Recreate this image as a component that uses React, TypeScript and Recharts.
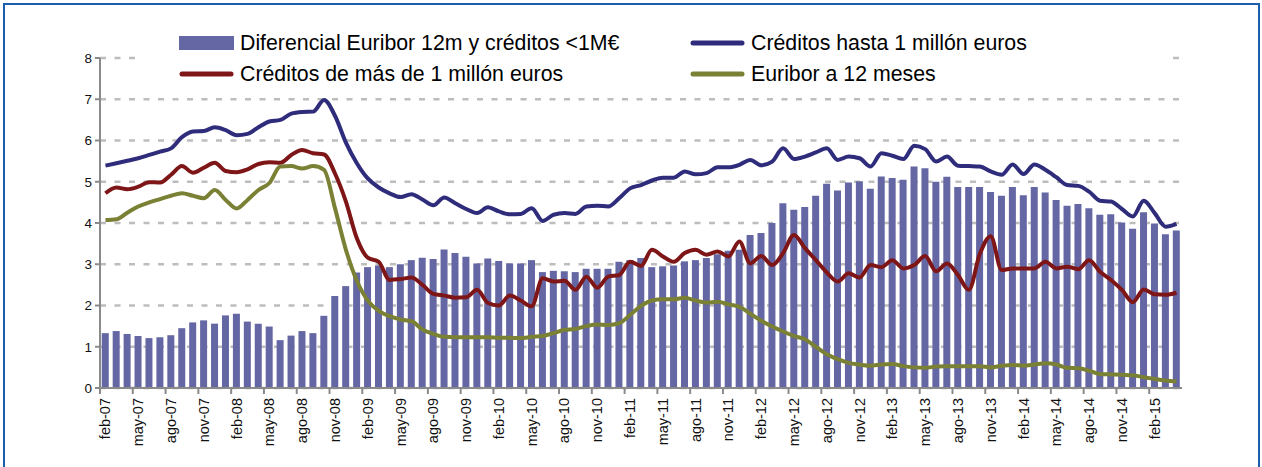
import React from 'react';
import { ComposedChart, Bar, Line, XAxis, YAxis, CartesianGrid, Legend } from 'recharts';

const monthNames = ['ene', 'feb', 'mar', 'abr', 'may', 'jun', 'jul', 'ago', 'sep', 'oct', 'nov', 'dic'];
const firstMonthIndex = 1; // feb
const firstYear = 7; // 2007
const monthCount = 99;
const months: string[] = [];
for (let k = 0; k < monthCount; k++) {
  const m = (firstMonthIndex + k) % 12;
  const y = firstYear + Math.floor((firstMonthIndex + k) / 12);
  months.push(`${monthNames[m]}-${String(y).padStart(2, '0')}`);
}

const diferencial = [
  1.33, 1.38, 1.31, 1.26, 1.21, 1.23, 1.28, 1.45, 1.59, 1.64, 1.56, 1.76, 1.80, 1.61, 1.56, 1.49, 1.16, 1.27, 1.38, 1.33,
  1.75, 2.23, 2.47, 2.80, 2.93, 2.97, 2.93, 3.00, 3.10, 3.16, 3.13, 3.36, 3.27, 3.18, 3.02, 3.14, 3.08, 3.02, 3.02, 3.10,
  2.81, 2.84, 2.83, 2.81, 2.89, 2.89, 2.89, 3.06, 3.10, 3.15, 2.93, 2.95, 2.97, 3.07, 3.10, 3.15, 3.24, 3.33, 3.35, 3.71,
  3.76, 4.00, 4.48, 4.32, 4.39, 4.66, 4.95, 4.79, 4.98, 5.01, 4.83, 5.13, 5.09, 5.05, 5.37, 5.33, 5.00, 5.12, 4.87, 4.87,
  4.87, 4.75, 4.66, 4.87, 4.67, 4.87, 4.74, 4.56, 4.42, 4.46, 4.36, 4.20, 4.21, 4.01, 3.86, 4.26, 3.99, 3.73, 3.82,
];

const hasta1M = [
  5.39, 5.45, 5.51, 5.57, 5.65, 5.73, 5.81, 6.08, 6.22, 6.23, 6.32, 6.25, 6.13, 6.16, 6.32, 6.46, 6.50, 6.65, 6.69, 6.70,
  6.98, 6.60, 5.95, 5.45, 5.08, 4.86, 4.72, 4.63, 4.70, 4.57, 4.43, 4.62, 4.48, 4.34, 4.24, 4.38, 4.28, 4.21, 4.22, 4.36,
  4.05, 4.20, 4.24, 4.22, 4.40, 4.42, 4.40, 4.60, 4.84, 4.92, 5.03, 5.10, 5.10, 5.25, 5.18, 5.21, 5.35, 5.35, 5.41, 5.53,
  5.40, 5.49, 5.81, 5.55, 5.61, 5.71, 5.81, 5.53, 5.61, 5.57, 5.37, 5.69, 5.63, 5.55, 5.87, 5.79, 5.49, 5.61, 5.39, 5.38,
  5.37, 5.25, 5.17, 5.42, 5.19, 5.42, 5.29, 5.11, 4.92, 4.90, 4.76, 4.54, 4.52, 4.34, 4.16, 4.54, 4.24, 3.91, 3.98,
];

const masDe1M = [
  4.72, 4.86, 4.82, 4.88, 4.99, 4.98, 5.17, 5.38, 5.22, 5.34, 5.46, 5.26, 5.23, 5.30, 5.43, 5.47, 5.46, 5.65, 5.77, 5.69,
  5.66, 5.20, 4.52, 3.63, 3.16, 3.06, 2.62, 2.64, 2.68, 2.50, 2.28, 2.24, 2.19, 2.20, 2.38, 2.06, 2.00, 2.24, 2.12, 1.98,
  2.66, 2.58, 2.60, 2.38, 2.70, 2.43, 2.70, 2.74, 3.06, 2.96, 3.35, 3.19, 3.06, 3.27, 3.35, 3.23, 3.31, 3.19, 3.55, 3.02,
  3.20, 2.98, 3.27, 3.71, 3.39, 3.10, 2.80, 2.58, 2.78, 2.68, 2.98, 2.93, 3.10, 2.90, 2.98, 3.20, 2.83, 3.02, 2.74, 2.38,
  3.25, 3.68, 2.86, 2.90, 2.90, 2.90, 3.06, 2.90, 2.94, 2.88, 3.10, 2.82, 2.62, 2.38, 2.08, 2.39, 2.27, 2.26, 2.31,
];

const euribor12m = [
  4.07, 4.09, 4.25, 4.40, 4.50, 4.58, 4.66, 4.72, 4.66, 4.60, 4.80, 4.56, 4.35, 4.56, 4.80, 4.97, 5.37, 5.38, 5.32, 5.38,
  5.29, 4.36, 3.35, 2.60, 2.12, 1.87, 1.74, 1.66, 1.62, 1.42, 1.31, 1.24, 1.23, 1.23, 1.23, 1.23, 1.22, 1.22, 1.21, 1.24,
  1.26, 1.33, 1.41, 1.43, 1.50, 1.54, 1.53, 1.57, 1.77, 1.99, 2.12, 2.15, 2.15, 2.19, 2.12, 2.07, 2.09, 2.03, 1.97, 1.80,
  1.63, 1.49, 1.37, 1.26, 1.18, 1.00, 0.82, 0.70, 0.61, 0.57, 0.54, 0.57, 0.58, 0.53, 0.50, 0.49, 0.52, 0.53, 0.53, 0.53,
  0.53, 0.50, 0.54, 0.56, 0.54, 0.57, 0.60, 0.57, 0.49, 0.48, 0.42, 0.34, 0.33, 0.32, 0.31, 0.26, 0.22, 0.18, 0.16,
];

const yTicks = [0, 1, 2, 3, 4, 5, 6, 7, 8];

const labels = {
  dif: 'Diferencial Euribor 12m y créditos <1M€',
  hasta: 'Créditos hasta 1 millón euros',
  mas: 'Créditos de más de 1 millón euros',
  eur: 'Euribor a 12 meses',
};

const COLORS = {
  bar: '#6467A4',
  blue: '#2F2C7C',
  red: '#7E1517',
  olive: '#7A8034',
  grid: '#BDBDBD',
  axis: '#8A8A8A',
  frame: '#1C5EAB',
};

const FONT = '"Liberation Sans", Arial, Helvetica, sans-serif';

const data = months.map((m, i) => ({
  m,
  dif: diferencial[i],
  hasta: hasta1M[i],
  mas: masDe1M[i],
  eur: euribor12m[i],
}));

const XTick = (props: any) => {
  const { x, y, payload } = props;
  const half = payload && typeof payload.offset === 'number' && payload.offset > 0 ? payload.offset : 5.47;
  const tx = x + 5;
  const ty = y + 10;
  return (
    <g>
      <line x1={x - half} y1={y} x2={x - half} y2={y + 6} stroke={COLORS.axis} strokeWidth={2} />
      <text
        x={tx}
        y={ty}
        transform={`rotate(-90, ${tx}, ${ty})`}
        textAnchor="end"
        fontSize={14.5}
        fill="#111"
        fontFamily={FONT}
      >
        {payload.value}
      </text>
    </g>
  );
};

const Swatch = ({ kind, color }: { kind: 'bar' | 'line'; color: string }) => (
  <svg width={55} height={16} style={{ display: 'block', flex: 'none' }}>
    {kind === 'bar' ? (
      <rect x={0} y={1} width={55} height={14} fill={color} />
    ) : (
      <line x1={3} y1={8} x2={52} y2={8} stroke={color} strokeWidth={5} strokeLinecap="round" />
    )}
  </svg>
);

const legendLayout = [
  { key: 'dif', kind: 'bar' as const, color: COLORS.bar, left: 42, top: 3 },
  { key: 'hasta', kind: 'line' as const, color: COLORS.blue, left: 553, top: 3 },
  { key: 'mas', kind: 'line' as const, color: COLORS.red, left: 42, top: 34 },
  { key: 'eur', kind: 'line' as const, color: COLORS.olive, left: 553, top: 34 },
];

const LegendContent = () => (
  <div
    style={{
      position: 'relative',
      width: 1030,
      height: 62,
      background: '#fff',
      fontFamily: FONT,
      fontSize: 21.3,
      color: '#000',
    }}
  >
    {legendLayout.map((it) => (
      <div
        key={it.key}
        style={{
          position: 'absolute',
          left: it.left,
          top: it.top,
          height: 24,
          display: 'flex',
          alignItems: 'center',
          whiteSpace: 'nowrap',
          lineHeight: '24px',
        }}
      >
        <Swatch kind={it.kind} color={it.color} />
        <span style={{ marginLeft: 6 }}>{(labels as any)[it.key]}</span>
      </div>
    ))}
  </div>
);

export default function App() {
  return (
    <div style={{ position: 'absolute', left: 0, top: 0, width: 1262, height: 467, background: '#fff', overflow: 'hidden' }}>
      <div
        style={{
          position: 'absolute',
          left: 3,
          top: 3,
          width: 1257,
          height: 480,
          boxSizing: 'border-box',
          borderTop: `2.5px solid ${COLORS.frame}`,
          borderLeft: `2.5px solid ${COLORS.frame}`,
          borderRight: `2.5px solid ${COLORS.frame}`,
          pointerEvents: 'none',
        }}
      />
      <div style={{ position: 'absolute', left: 0, top: 0 }}>
        <ComposedChart
          width={1262}
          height={467}
          data={data}
          margin={{ top: 58, right: 80, bottom: 0, left: 40 }}
          barCategoryGap="16%"
        >
          <CartesianGrid
            vertical={false}
            stroke={COLORS.grid}
            strokeWidth={2.5}
            strokeDasharray="6 8.5"
          />
          <XAxis
            dataKey="m"
            interval={2}
            height={79}
            tickLine={false}
            tickSize={0}
            tickMargin={0}
            axisLine={{ stroke: COLORS.axis, strokeWidth: 2 }}
            tick={<XTick />}
          />
          <YAxis
            width={60}
            domain={[0, 8]}
            ticks={yTicks}
            interval={0}
            tickSize={5}
            tickMargin={3}
            axisLine={{ stroke: COLORS.axis, strokeWidth: 2 }}
            tickLine={{ stroke: COLORS.axis, strokeWidth: 2 }}
            tick={{ fontSize: 13.5, fill: '#111', fontFamily: FONT }}
          />
          <Legend
            layout="horizontal"
            verticalAlign="middle"
            align="center"
            content={<LegendContent />}
            wrapperStyle={{ left: 137, top: 28, width: 1030, height: 62 }}
          />
          <Bar dataKey="dif" name={labels.dif} fill={COLORS.bar} isAnimationActive={false} />
          <Line
            type="monotone"
            dataKey="hasta"
            name={labels.hasta}
            stroke={COLORS.blue}
            strokeWidth={4}
            dot={false}
            activeDot={false}
            isAnimationActive={false}
          />
          <Line
            type="monotone"
            dataKey="mas"
            name={labels.mas}
            stroke={COLORS.red}
            strokeWidth={4}
            dot={false}
            activeDot={false}
            isAnimationActive={false}
          />
          <Line
            type="monotone"
            dataKey="eur"
            name={labels.eur}
            stroke={COLORS.olive}
            strokeWidth={4}
            dot={false}
            activeDot={false}
            isAnimationActive={false}
          />
        </ComposedChart>
      </div>
    </div>
  );
}
